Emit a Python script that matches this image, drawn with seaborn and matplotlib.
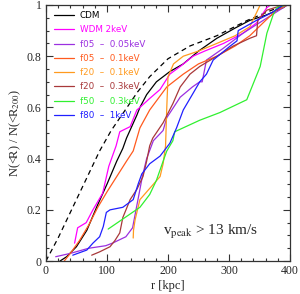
import numpy as np
import pandas as pd
import seaborn as sns
import matplotlib
matplotlib.use("Agg")
import matplotlib.pyplot as plt
from matplotlib.ticker import MultipleLocator

# ---- data ----
nfw_x = [0, 20, 40, 60, 88, 107, 130, 150, 170, 200, 236, 280, 330, 370, 395, 400]
nfw_y = [0, 0.09, 0.19, 0.29, 0.43, 0.51, 0.59, 0.66, 0.72, 0.79, 0.84, 0.88, 0.94, 0.98, 1.0, 1.0]

cdm_x = [23, 34, 50, 67, 83, 100, 116, 126, 132, 149, 154, 165, 181, 203, 225, 250, 280, 310, 334, 360, 389, 395]
cdm_y = [0, 0.017, 0.056, 0.12, 0.21, 0.30, 0.39, 0.44, 0.48, 0.57, 0.60, 0.65, 0.70, 0.74, 0.77, 0.82, 0.87, 0.91, 0.94, 0.96, 0.99, 1.0]

wdm_x = [47, 52, 66, 77, 93, 103, 115, 121, 138, 149, 154, 170, 187, 203, 220, 241, 260, 291, 323, 345, 362, 368]
wdm_y = [0.07, 0.13, 0.15, 0.20, 0.265, 0.37, 0.45, 0.505, 0.525, 0.59, 0.60, 0.635, 0.67, 0.73, 0.76, 0.80, 0.82, 0.85, 0.89, 0.93, 0.99, 1.0]

f05a_x = [16, 40, 70, 98, 109, 131, 142, 150, 158, 165, 176, 192, 198, 220, 240, 252, 256, 263, 290, 323, 356, 389, 395]
f05a_y = [0.017, 0.03, 0.05, 0.06, 0.07, 0.095, 0.13, 0.23, 0.33, 0.40, 0.47, 0.51, 0.56, 0.64, 0.68, 0.70, 0.70, 0.785, 0.83, 0.89, 0.94, 0.99, 1.0]

f05b_x = [30, 40, 55, 70, 85, 100, 116, 132, 143, 154, 170, 198, 225, 250, 280, 310, 334, 360, 378, 395]
f05b_y = [0, 0.03, 0.08, 0.14, 0.21, 0.27, 0.33, 0.39, 0.43, 0.52, 0.59, 0.68, 0.73, 0.77, 0.80, 0.84, 0.88, 0.94, 0.98, 1.0]

f20a_x = [143, 143.5, 146, 154, 165, 176, 187, 192, 196, 198, 200, 209, 225, 250, 280, 310, 334, 345, 351]
f20a_y = [0.09, 0.12, 0.16, 0.24, 0.27, 0.30, 0.33, 0.38, 0.45, 0.60, 0.72, 0.77, 0.80, 0.82, 0.85, 0.88, 0.915, 0.97, 1.0]

f20b_x = [75, 88, 105, 113, 121, 126, 138, 149, 159, 165, 170, 175, 192, 208, 220, 236, 252, 280, 307, 334, 345, 347, 362, 389]
f20b_y = [0.023, 0.036, 0.056, 0.08, 0.11, 0.17, 0.24, 0.28, 0.33, 0.39, 0.45, 0.48, 0.54, 0.615, 0.68, 0.73, 0.76, 0.80, 0.84, 0.87, 0.88, 0.94, 0.98, 1.0]

f50_x = [102, 154, 170, 181, 192, 198, 208, 211, 252, 285, 329, 351, 362, 372, 378, 395]
f50_y = [0.125, 0.21, 0.26, 0.315, 0.39, 0.43, 0.47, 0.505, 0.55, 0.58, 0.63, 0.76, 0.89, 0.96, 0.99, 1.0]

f80_x = [44, 67, 77, 88, 94, 99, 105, 126, 143, 151, 157, 170, 187, 203, 214, 225, 241, 252, 263, 274, 302, 313, 315, 345, 370, 389]
f80_y = [0.023, 0.043, 0.07, 0.095, 0.135, 0.19, 0.20, 0.21, 0.24, 0.30, 0.34, 0.38, 0.41, 0.46, 0.52, 0.59, 0.655, 0.70, 0.73, 0.785, 0.84, 0.86, 0.90, 0.94, 0.97, 1.0]

labels = ["CDM", "WDM 2keV", "f05  \u2013  0.05keV", "f05  \u2013  0.1keV", "f20  \u2013  0.1keV",
          "f20  \u2013  0.3keV", "f50  \u2013  0.3keV", "f80  \u2013  1keV"]
colors = ["#000000", "#ff00ff", "#9b30e0", "#ff5a1e", "#ff9a1e", "#a8383a", "#30f030", "#2020ff"]
series = [(cdm_x, cdm_y), (wdm_x, wdm_y), (f05a_x, f05a_y), (f05b_x, f05b_y), (f20a_x, f20a_y),
          (f20b_x, f20b_y), (f50_x, f50_y), (f80_x, f80_y)]

sns.set_theme(style="white")
plt.rcParams["font.family"] = ["Liberation Serif", "DejaVu Serif"]
plt.rcParams["mathtext.fontset"] = "stix"

fig = plt.figure(figsize=(3.0, 2.94), dpi=100)
ax = fig.add_axes([0.153, 0.112, 0.814, 0.871])

sns.lineplot(x=nfw_x, y=nfw_y, ax=ax, color="black", lw=0.9, linestyle=(0, (4, 3)),
             estimator=None, sort=False)
for (xs, ys), lab, c in zip(series, labels, colors):
    sns.lineplot(x=xs, y=ys, ax=ax, color=c, lw=0.9, label=lab, estimator=None, sort=False)

ax.set_xlim(0, 400)
ax.set_ylim(0, 1)
ax.xaxis.set_major_locator(MultipleLocator(100))
ax.xaxis.set_minor_locator(MultipleLocator(20))
ax.yaxis.set_major_locator(MultipleLocator(0.2))
ax.yaxis.set_minor_locator(MultipleLocator(0.05))
ax.set_xticks([0, 100, 200, 300, 400])
ax.set_xticklabels(["0", "100", "200", "300", "400"])
ax.set_yticks([0, 0.2, 0.4, 0.6, 0.8, 1.0])
ax.set_yticklabels(["0", "0.2", "0.4", "0.6", "0.8", "1"])
ax.tick_params(which="both", direction="in", top=True, right=True, bottom=True, left=True,
               labelsize=8.5, color="#333333", width=0.8, pad=3)
ax.tick_params(which="major", length=5)
ax.tick_params(which="minor", length=2.5)
for s in ax.spines.values():
    s.set_linewidth(0.9)
    s.set_color("#333333")

ax.set_xlabel("r [kpc]", fontsize=9, labelpad=2)
ax.set_ylabel(r"N(<R) / N(<R$_{200}$)", fontsize=9, labelpad=3)

ax.text(270, 0.113, r"v$_{\rm peak}$ > 13 km/s", fontsize=11, ha="center", va="center")

leg = ax.legend(loc="upper left", frameon=False, handlelength=2.2,
                handletextpad=0.7, labelspacing=0.6, borderaxespad=0.3,
                bbox_to_anchor=(0.01, 1.0), labelcolor="linecolor",
                prop={"family": "DejaVu Sans", "size": 6.3})

fig.savefig("out.png", dpi=100)
